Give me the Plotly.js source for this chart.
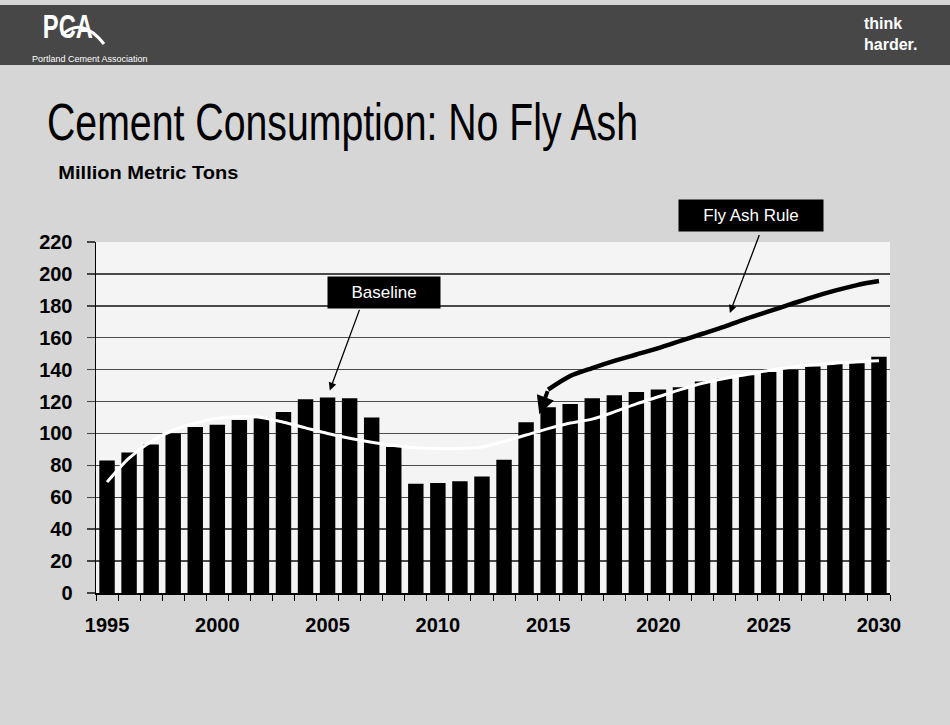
<!DOCTYPE html>
<html>
<head>
<meta charset="utf-8">
<script src="https://cdn.plot.ly/plotly-3.0.1.min.js"></script>
<style>
  html, body { margin: 0; padding: 0; background: #d6d6d6; }
  #chart { width: 950px; height: 725px; }
</style>
</head>
<body>
<div id="chart"></div>
<script>
// ---------------- data ----------------
const years = [1995,1996,1997,1998,1999,2000,2001,2002,2003,2004,2005,2006,2007,2008,2009,2010,2011,2012,
               2013,2014,2015,2016,2017,2018,2019,2020,2021,2022,2023,2024,2025,2026,2027,2028,2029,2030];
const consumption = [83,88,93,100,104,105.5,108.5,110,113.5,121.5,122.5,122,110,91.5,68.5,69,70,73,
                     83.5,107,116.5,118.5,122,124,126,127.5,129,132.5,134.5,136.5,138.5,140,142,143.5,144,148];

const baselineYears = years;
const baselineValues = [69.5,84.5,95,102,106.5,109.5,110.5,110,107,103.5,100,97,94.5,92.5,91,90.5,90.5,91.5,
                        95,99,103,106.5,109,113.5,118.5,123,127.5,131.5,134.5,137,139.5,141.5,143,144,145,145.5];

const flyAshYears  = [2015,2016,2017,2018,2019,2020,2021,2022,2023,2024,2025,2026,2027,2028,2029,2030];
const flyAshValues = [127.5,136,141,145.5,149.5,153.5,158,162.5,167,172,176.5,181,185.5,189.5,193,195.5];
const flyAshArrowTip = {year: 2014.6, value: 112};

const tickYears = [1995,2000,2005,2010,2015,2020,2025,2030];
const yTicks = [0,20,40,60,80,100,120,140,160,180,200,220];

const titleText = 'Cement Consumption: No Fly Ash';
const unitText = 'Million Metric Tons';
const baselineLabel = 'Baseline';
const baselinePointer = {labelYear: 2007.56, labelValue: 188.3, tailYear: 2006.47, tailValue: 178.4, tipYear: 2005.1, tipValue: 127};
const flyAshLabel = 'Fly Ash Rule';
const flyAshPointer = {tailYear: 2024.6, tailValue: 225.3, tipYear: 2023.24, tipValue: 175.5};

// ---------------- layout helpers (pixel -> paper) ----------------
const W = 950, H = 725;
const PL = 96, PR = 890, PT = 242, PB = 593;
const px = X => (X - PL) / (PR - PL);
const py = Y => (PB - Y) / (PB - PT);

const SANS = '"Liberation Sans", Arial, sans-serif';

const traces = [
  {
    type: 'bar', x: years, y: consumption,
    marker: {color: '#000000', line: {width: 0}},
    hoverinfo: 'skip'
  },
  {
    type: 'scatter', mode: 'lines', x: baselineYears, y: baselineValues,
    line: {color: '#ffffff', width: 3, shape: 'spline', smoothing: 0.8},
    hoverinfo: 'skip'
  },
  {
    type: 'scatter', mode: 'lines', x: flyAshYears, y: flyAshValues,
    line: {color: '#000000', width: 4.5, shape: 'spline', smoothing: 0.8},
    hoverinfo: 'skip'
  }
];

const layout = {
  width: W, height: H,
  paper_bgcolor: '#d6d6d6',
  plot_bgcolor: '#f4f4f4',
  showlegend: false,
  bargap: 0.3,
  margin: {l: PL, r: W - PR, t: PT, b: H - PB, pad: 0},
  title: {
    text: titleText,
    x: 47 / W, xanchor: 'left', xref: 'container',
    y: 1 - 104 / H, yanchor: 'top', yref: 'container',
    font: {family: SANS, size: 52, color: '#000000'}
  },
  xaxis: {
    type: 'linear',
    range: [years[0] - 0.5, years[years.length - 1] + 0.5],
    tickvals: tickYears,
    ticktext: tickYears.map(String),
    ticks: '',
    ticklabelstandoff: 13,
    tickfont: {family: SANS, size: 20, color: '#000000', weight: 'bold'},
    showgrid: false, zeroline: false,
    showline: true, linecolor: '#000000', linewidth: 1.5,
    minor: {ticks: 'outside', tick0: years[0] - 0.5, dtick: 1, ticklen: 6, tickcolor: '#000000', tickwidth: 1, showgrid: false},
    fixedrange: true
  },
  yaxis: {
    range: [yTicks[0], yTicks[yTicks.length - 1]],
    tickvals: yTicks,
    ticks: 'outside', ticklen: 8, tickcolor: '#444444', tickwidth: 1.5,
    ticklabelstandoff: 10,
    tickfont: {family: SANS, size: 20, color: '#000000', weight: 'bold'},
    showgrid: true, gridcolor: '#4a4a4a', gridwidth: 1.5,
    zeroline: false,
    showline: true, linecolor: '#000000', linewidth: 1.5,
    fixedrange: true
  },
  shapes: [
    // header band
    {type: 'rect', xref: 'paper', yref: 'paper', x0: px(0), x1: px(W), y0: py(65), y1: py(5),
     fillcolor: '#474747', line: {width: 0}, layer: 'below'},
    // PCA swoosh
    {type: 'path', xref: 'paper', yref: 'paper', layer: 'above',
     path: `M ${px(62)} ${py(35)} Q ${px(82)} ${py(16)} ${px(104)} ${py(44)}`,
     line: {color: '#ffffff', width: 3}}
  ],
  annotations: [
    {xref: 'paper', yref: 'paper', x: px(31), y: py(26), xanchor: 'left', yanchor: 'middle',
     text: '<b>PCA</b>', showarrow: false, font: {family: SANS, size: 33, color: '#ffffff'}},
    {xref: 'paper', yref: 'paper', x: px(30), y: py(59), xanchor: 'left', yanchor: 'middle',
     text: 'Portland Cement Association', showarrow: false, font: {family: SANS, size: 9, color: '#ffffff'}},
    {xref: 'paper', yref: 'paper', x: px(862), y: py(34), xanchor: 'left', yanchor: 'middle',
     text: '<b>think</b><br><b>harder.</b>', align: 'left', showarrow: false,
     font: {family: SANS, size: 16, color: '#ffffff'}},
    {xref: 'paper', yref: 'paper', x: px(61), y: py(172), xanchor: 'left', yanchor: 'middle',
     text: '<b>' + unitText + '</b>', showarrow: false, font: {family: SANS, size: 19, color: '#000000'}},
    // Baseline label
    {xref: 'x', yref: 'y', x: baselinePointer.labelYear, y: baselinePointer.labelValue,
     xanchor: 'center', yanchor: 'middle',
     text: baselineLabel, showarrow: false, bgcolor: '#000000', width: 108, height: 27, borderpad: 2,
     font: {family: SANS, size: 17, color: '#ffffff'}},
    {xref: 'x', yref: 'y', axref: 'x', ayref: 'y',
     x: baselinePointer.tipYear, y: baselinePointer.tipValue,
     ax: baselinePointer.tailYear, ay: baselinePointer.tailValue,
     text: '', showarrow: true, arrowhead: 2, arrowsize: 1.2, arrowwidth: 1.3, arrowcolor: '#000000'},
    // Fly Ash Rule label
    {xref: 'paper', yref: 'paper', x: px(751), y: py(215), xanchor: 'center', yanchor: 'middle',
     text: flyAshLabel, showarrow: false, bgcolor: '#000000', width: 140, height: 27, borderpad: 2,
     font: {family: SANS, size: 17, color: '#ffffff'}},
    {xref: 'x', yref: 'y', axref: 'x', ayref: 'y',
     x: flyAshPointer.tipYear, y: flyAshPointer.tipValue,
     ax: flyAshPointer.tailYear, ay: flyAshPointer.tailValue,
     text: '', showarrow: true, arrowhead: 2, arrowsize: 1.2, arrowwidth: 1.3, arrowcolor: '#000000'},
    // fly ash line arrowhead
    {xref: 'x', yref: 'y', axref: 'x', ayref: 'y',
     x: flyAshArrowTip.year, y: flyAshArrowTip.value,
     ax: flyAshYears[0], ay: flyAshValues[0],
     text: '', showarrow: true, arrowhead: 2, arrowsize: 0.9, arrowwidth: 4, arrowcolor: '#000000'}
  ]
};

// condensed look of the slide fonts: squeeze selected texts to their reference widths
function squeeze(el, len) {
  if (!el) return;
  el.setAttribute('textLength', len);
  el.setAttribute('lengthAdjust', 'spacingAndGlyphs');
}

Plotly.newPlot('chart', traces, layout, {displayModeBar: false, staticPlot: true}).then(gd => {
  squeeze(gd.querySelector('.gtitle'), 591);
  gd.querySelectorAll('.annotation-text').forEach(t => {
    if (t.textContent === 'PCA') squeeze(t, 50);
    if (t.textContent === unitText) squeeze(t, 180);
  });
});
</script>
</body>
</html>
